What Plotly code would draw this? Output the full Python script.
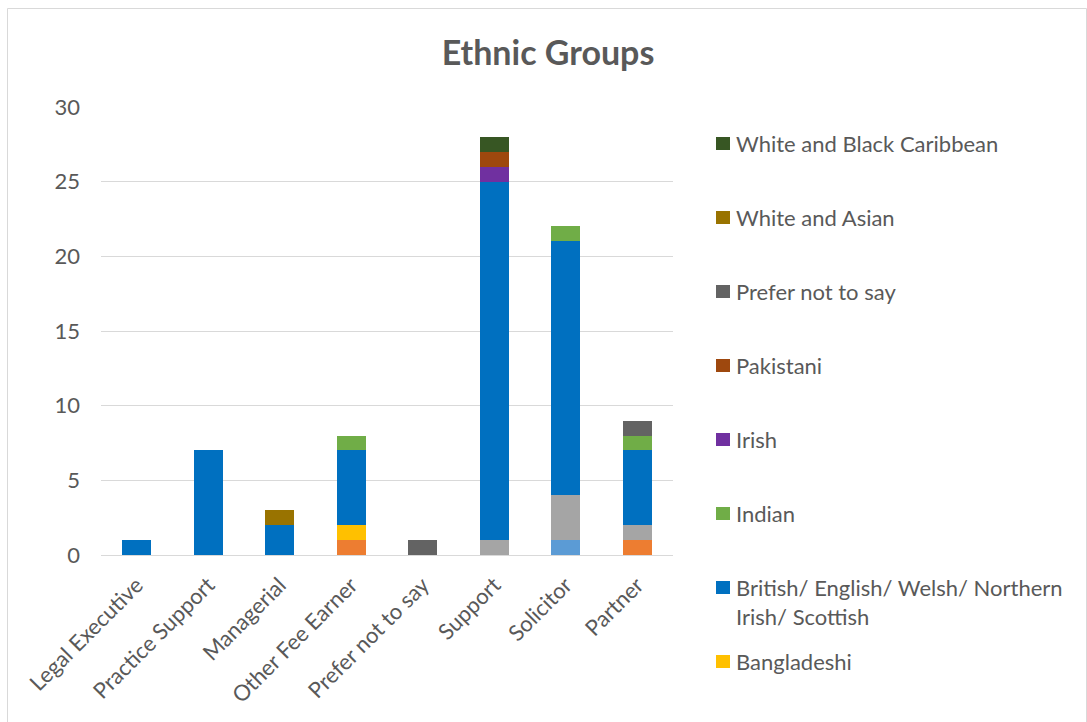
import plotly.graph_objects as go

# Job roles along the x-axis
categories = ["Legal Executive", "Practice Support", "Managerial", "Other Fee Earner",
              "Prefer not to say", "Support", "Solicitor", "Partner"]

# Head counts per ethnic group (stacked bottom to top)
any_other_ethnic = [0, 0, 0, 0, 0, 0, 1, 0]
any_other_mixed = [0, 0, 0, 1, 0, 0, 0, 1]
any_other_white = [0, 0, 0, 0, 0, 1, 3, 1]
bangladeshi = [0, 0, 0, 1, 0, 0, 0, 0]
british = [1, 7, 2, 5, 0, 24, 17, 5]
indian = [0, 0, 0, 1, 0, 0, 1, 1]
irish = [0, 0, 0, 0, 0, 1, 0, 0]
pakistani = [0, 0, 0, 0, 0, 1, 0, 0]
prefer_not = [0, 0, 0, 0, 1, 0, 0, 1]
white_asian = [0, 0, 1, 0, 0, 0, 0, 0]
white_black_caribbean = [0, 0, 0, 0, 0, 1, 0, 0]

series = [
    ("Any other ethnic group", any_other_ethnic, "#5B9BD5", False),
    ("Any other mixed background", any_other_mixed, "#ED7D31", False),
    ("Any other White background", any_other_white, "#A5A5A5", False),
    ("Bangladeshi", bangladeshi, "#FFC000", True),
    ("British/ English/ Welsh/ Northern<br>Irish/ Scottish", british, "#0070C0", True),
    ("Indian", indian, "#70AD47", True),
    ("Irish", irish, "#7030A0", True),
    ("Pakistani", pakistani, "#9E480E", True),
    ("Prefer not to say", prefer_not, "#636363", True),
    ("White and Asian", white_asian, "#997300", True),
    ("White and Black Caribbean", white_black_caribbean, "#375623", True),
]

y_ticks = [0, 5, 10, 15, 20, 25, 30]

FONT = "Lato"
TEXT = "#595959"
GRID = "#D9D9D9"

W, H = 1087, 722
L, R, T, B = 101, 414, 107, 167
PW, PH = W - L - R, H - T - B


def px_x(p):
    return (p - L) / PW


def px_y(p):
    return (H - B - p) / PH


fig = go.Figure()
for name, vals, color, _ in series:
    fig.add_trace(go.Bar(
        x=categories, y=vals, name=name,
        marker=dict(color=color, line=dict(width=0)),
        showlegend=False,
    ))

# Legend drawn as swatches + labels, newest series on top
shapes = []
annotations = []
shown = [s for s in series if s[3]][::-1]
for k, (name, _, color, _) in enumerate(shown):
    cy = 143 + 74 * k
    shapes.append(dict(type="rect", xref="paper", yref="paper",
                       x0=px_x(716), x1=px_x(730), y0=px_y(cy + 7), y1=px_y(cy - 6),
                       fillcolor=color, line=dict(width=0)))
    annotations.append(dict(xref="paper", yref="paper", x=px_x(734), y=px_y(cy - 15),
                            xanchor="left", yanchor="top", align="left",
                            text=name, showarrow=False,
                            font=dict(family=FONT, size=22, color=TEXT)))

# Chart border
shapes.append(dict(type="rect", xref="paper", yref="paper",
                   x0=px_x(7.5), x1=px_x(1086.5), y0=px_y(730), y1=px_y(8.5),
                   line=dict(color=GRID, width=1), fillcolor="rgba(0,0,0,0)", layer="below"))

fig.update_layout(
    width=W, height=H,
    margin=dict(l=L, r=R, t=T, b=B, autoexpand=False),
    barmode="stack",
    bargap=0.595,
    paper_bgcolor="white",
    plot_bgcolor="white",
    font=dict(family=FONT, color=TEXT),
    title=dict(text="<b>Ethnic Groups</b>", x=548 / W, xref="container", xanchor="center",
               y=1 - 53 / H, yref="container", yanchor="middle",
               font=dict(family=FONT, size=34, color=TEXT)),
    shapes=shapes,
    annotations=annotations,
    xaxis=dict(tickangle=-45, tickfont=dict(family=FONT, size=22, color=TEXT),
               showgrid=False, showline=False, ticks="", fixedrange=True,
               ticklabelstandoff=12),
    yaxis=dict(range=[0, 30], tickvals=y_ticks, tickfont=dict(family=FONT, size=22, color=TEXT),
               showgrid=True, gridcolor=GRID, gridwidth=1,
               zeroline=True, zerolinecolor=GRID, zerolinewidth=1,
               showline=False, ticks="", ticklabelstandoff=20),
)

fig.write_html("out.html")
